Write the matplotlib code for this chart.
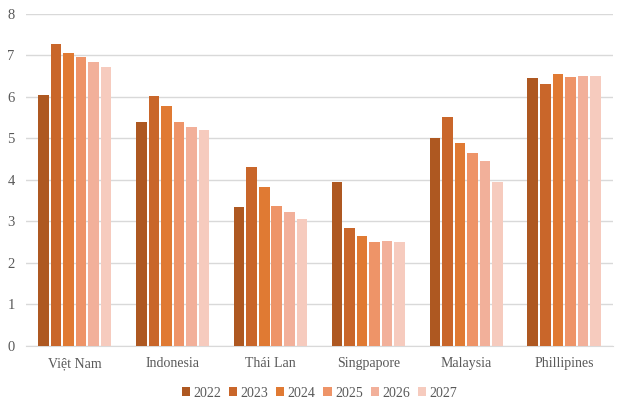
import matplotlib.pyplot as plt
import numpy as np

countries = ["Việt Nam", "Indonesia", "Thái Lan", "Singpapore", "Malaysia", "Phillipines"]
years = ["2022", "2023", "2024", "2025", "2026", "2027"]

v2022 = [6.05, 5.40, 3.34, 3.96, 5.02, 6.46]
v2023 = [7.27, 6.01, 4.30, 2.85, 5.52, 6.31]
v2024 = [7.05, 5.77, 3.82, 2.66, 4.89, 6.55]
v2025 = [6.95, 5.40, 3.36, 2.50, 4.66, 6.48]
v2026 = [6.84, 5.28, 3.23, 2.52, 4.45, 6.51]
v2027 = [6.73, 5.20, 3.05, 2.50, 3.94, 6.51]
series = [v2022, v2023, v2024, v2025, v2026, v2027]

colors = ["#AE5821", "#C9662A", "#E07A33", "#EE9468", "#F2B09A", "#F6CBBE"]

plt.rcParams["font.family"] = ["Liberation Serif", "DejaVu Serif"]

fig = plt.figure(figsize=(6.3, 4.08), dpi=100)
ax = fig.add_axes([0.041, 0.152, 0.932, 0.814])

x = np.arange(len(countries))
step = 0.128
width = 0.108
for i, (yr, vals) in enumerate(zip(years, series)):
    ax.bar(x + (i - 2.5) * step, vals, width, color=colors[i], label=yr, zorder=3)

ax.set_ylim(0, 8)
ax.set_xlim(-0.5, len(countries) - 0.5)
ax.set_yticks(range(0, 9))
ax.set_xticks(x)
ax.set_xticklabels(countries)
ax.grid(axis="y", color="#d9d9d9", linewidth=1, zorder=0)
for s in ["top", "right", "left"]:
    ax.spines[s].set_visible(False)
ax.spines["bottom"].set_color("#d9d9d9")
ax.tick_params(length=0, colors="#595959")
ax.tick_params(axis="x", pad=8, labelsize=10)
ax.tick_params(axis="y", pad=8, labelsize=10.5)

ax.legend(loc="upper center", bbox_to_anchor=(0.5, -0.085), ncol=6, frameon=False,
          fontsize=10, labelcolor="#595959", handlelength=0.6, handleheight=0.6,
          handletextpad=0.25, columnspacing=0.55)

fig.savefig("out.png", dpi=100)
